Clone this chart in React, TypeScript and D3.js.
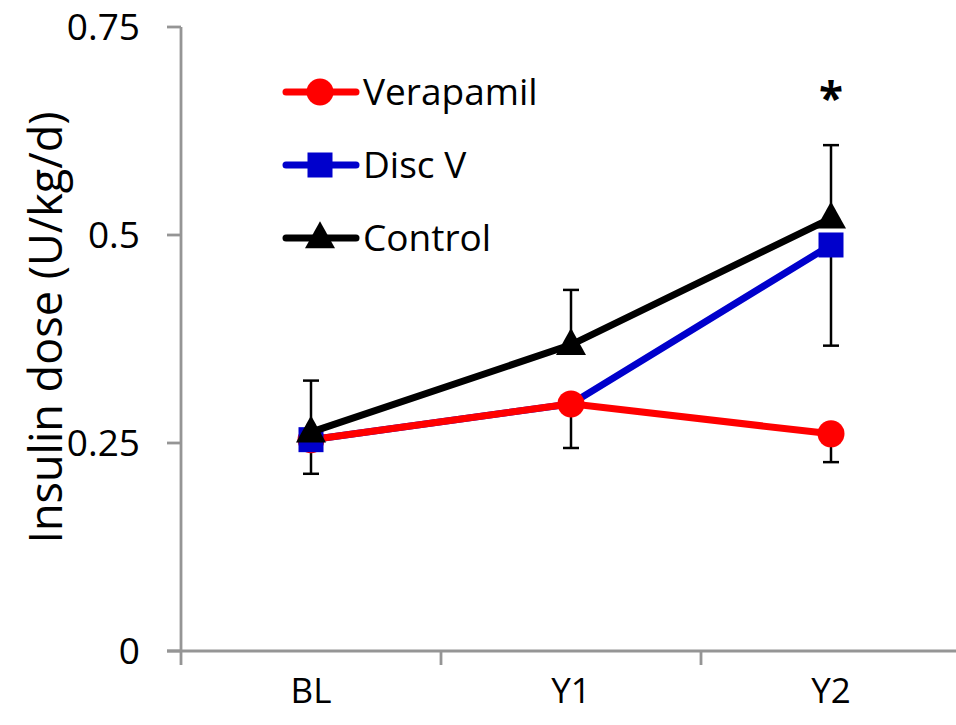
import React from "react";
import * as d3 from "d3";

// Study visits on the x axis
const visits = ["BL", "Y1", "Y2"];

// Mean insulin dose (U/kg/d) per group
const verapamil = [0.254, 0.297, 0.261];
const discV = [0.254, 0.297, 0.488];
const control = [0.263, 0.368, 0.52];

// One-sided error bars (SEM)
const verapamilErrDown = [0.041, 0.053, 0.034];
const discVErrDown = [null, null, 0.121];
const controlErrUp = [0.062, 0.066, 0.088];

// Disc V markers are shown only where the group is distinct
const discVMarkers = [true, false, true];

// Y axis ticks
const yTicks = [0, 0.25, 0.5, 0.75];
const yTickLabels = ["0", "0.25", "0.5", "0.75"];

// Significance marks per visit
const significance = ["", "", "*"];

const legendItems = [
  { name: "Verapamil", color: "#ff0000", shape: "circle" },
  { name: "Disc V", color: "#0000cc", shape: "square" },
  { name: "Control", color: "#000000", shape: "triangle" },
];

const W = 956;
const H = 725;
const FONT = "'Open Sans', sans-serif";

function Marker({ shape, x, y, color }: { shape: string; x: number; y: number; color: string }) {
  if (shape === "circle") return <circle cx={x} cy={y} r={13.5} fill={color} />;
  if (shape === "square")
    return <rect x={x - 12.5} y={y - 12.5} width={25} height={25} fill={color} />;
  const s = 30;
  const h = 27;
  return (
    <path
      d={`M${x},${y - h * 0.62} L${x + s / 2},${y + h * 0.38} L${x - s / 2},${y + h * 0.38} Z`}
      fill={color}
    />
  );
}

export default function App() {
  const x = d3.scaleBand<string>().domain(visits).range([181, 961]).paddingInner(0).paddingOuter(0);
  const cx = (v: string) => (x(v) as number) + x.bandwidth() / 2;
  const y = d3.scaleLinear().domain([0, 0.75]).range([651, 27]);

  const line = d3
    .line<number>()
    .x((_, i) => cx(visits[i]))
    .y((d) => y(d));

  const axisColor = "#959595";
  const lw = 7;

  const errBar = (key: string, xi: number, v0: number, v1: number) => (
    <g key={key} stroke="#000" strokeWidth={2.5}>
      <line x1={xi} x2={xi} y1={y(v0)} y2={y(v1)} />
      <line x1={xi - 8} x2={xi + 8} y1={y(v1)} y2={y(v1)} />
    </g>
  );

  return (
    <svg
      width={W}
      height={H}
      style={{ position: "absolute", left: 0, top: 0, background: "#fff" }}
      fontFamily={FONT}
    >
      <rect width={W} height={H} fill="#fff" />

      {/* axes */}
      <g stroke={axisColor} strokeWidth={2.8} fill="none">
        <line x1={181} x2={181} y1={y(0.75)} y2={665} />
        <line x1={167} x2={W} y1={y(0)} y2={y(0)} />
        {yTicks.map((t) => (
          <line key={t} x1={167} x2={181} y1={y(t)} y2={y(t)} />
        ))}
        {visits.slice(1).map((v) => (
          <line key={v} x1={x(v) as number} x2={x(v) as number} y1={y(0)} y2={665} />
        ))}
      </g>

      {yTicks.map((t, i) => (
        <text
          key={t}
          x={140}
          y={y(t)}
          dy="0.36em"
          textAnchor="end"
          fontSize={37}
          fill="#000"
        >
          {yTickLabels[i]}
        </text>
      ))}

      {visits.map((v) => (
        <text key={v} x={cx(v)} y={703} textAnchor="middle" fontSize={35} fill="#000">
          {v}
        </text>
      ))}

      <text
        transform={`translate(62,${(112 + 543) / 2}) rotate(-90)`}
        textAnchor="middle"
        fontSize={45}
        fill="#000"
      >
        Insulin dose (U/kg/d)
      </text>

      {/* error bars */}
      {visits.map((v, i) => {
        const xi = cx(v);
        const out: React.ReactNode[] = [];
        out.push(errBar(`c${i}`, xi, control[i], control[i] + controlErrUp[i]));
        out.push(errBar(`v${i}`, xi, verapamil[i], verapamil[i] - verapamilErrDown[i]));
        const dv = discVErrDown[i];
        if (dv != null) out.push(errBar(`d${i}`, xi, discV[i], discV[i] - dv));
        return <g key={v}>{out}</g>;
      })}

      {/* Disc V line */}
      <path d={line(discV) || ""} fill="none" stroke="#0000cc" strokeWidth={lw} />

      {/* Verapamil */}
      <path d={line(verapamil) || ""} fill="none" stroke="#ff0000" strokeWidth={lw} />
      {verapamil.map((d, i) => (
        <Marker key={i} shape="circle" x={cx(visits[i])} y={y(d)} color="#ff0000" />
      ))}

      {/* Disc V markers */}
      {discV.map((d, i) =>
        discVMarkers[i] ? (
          <Marker key={i} shape="square" x={cx(visits[i])} y={y(d)} color="#0000cc" />
        ) : null
      )}

      {/* Control */}
      <path d={line(control) || ""} fill="none" stroke="#000" strokeWidth={lw} />
      {control.map((d, i) => (
        <Marker key={i} shape="triangle" x={cx(visits[i])} y={y(d)} color="#000" />
      ))}

      {/* significance */}
      {visits.map((v, i) =>
        significance[i] ? (
          <text
            key={v}
            x={cx(v)}
            y={114}
            textAnchor="middle"
            fontSize={44}
            fontWeight="bold"
            fill="#000"
          >
            {significance[i]}
          </text>
        ) : null
      )}

      {/* legend */}
      {legendItems.map((it, i) => {
        const ly = 92 + i * 73;
        return (
          <g key={it.name}>
            <line
              x1={286}
              x2={356}
              y1={ly}
              y2={ly}
              stroke={it.color}
              strokeWidth={lw}
              strokeLinecap="round"
            />
            <Marker shape={it.shape} x={320} y={ly} color={it.color} />
            <text x={363} y={ly + 13} fontSize={37} fill="#000">
              {it.name}
            </text>
          </g>
        );
      })}
    </svg>
  );
}
